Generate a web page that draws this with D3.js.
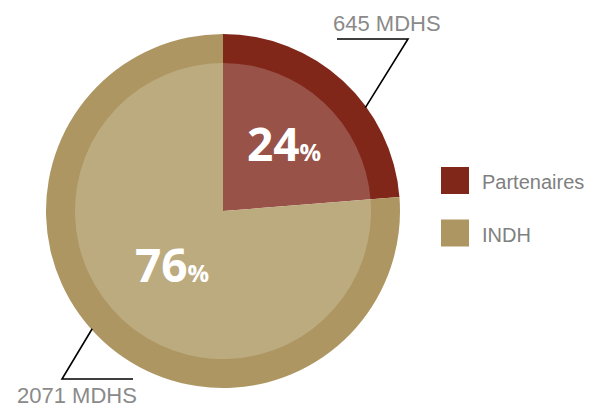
<!DOCTYPE html>
<html>
<head>
<meta charset="utf-8">
<script src="https://cdn.jsdelivr.net/npm/d3@7"></script>
<style>
  html, body { margin: 0; padding: 0; background: #fff; }
  svg { display: block; }
</style>
</head>
<body>
<div id="root"></div>
<script>
// Chart data
const categories = ["Partenaires", "INDH"];
const values = [645, 2071];
const amountLabels = ["645 MDHS", "2071 MDHS"];
const colors = ["#80271a", "#ad9661"];

const width = 594;
const height = 407;
const cx = 223;
const cy = 211;
const outerR = 177;
const innerR = 148;

const svg = d3
  .select("#root")
  .append("svg")
  .attr("width", width)
  .attr("height", height);

const pie = d3.pie().sort(null).value((d) => d);
const slices = pie(values);
const total = d3.sum(values);

const chartArea = svg.append("g").attr("transform", `translate(${cx}, ${cy})`);

const outerArc = d3.arc().innerRadius(0).outerRadius(outerR);
const innerArc = d3.arc().innerRadius(0).outerRadius(innerR);

chartArea
  .selectAll("path.slice")
  .data(slices)
  .join("path")
  .attr("class", "slice")
  .attr("d", outerArc)
  .attr("fill", (d, i) => colors[i]);

// lighter inner disk
chartArea
  .selectAll("path.inner")
  .data(slices)
  .join("path")
  .attr("class", "inner")
  .attr("d", innerArc)
  .attr("fill", "#fff")
  .attr("fill-opacity", 0.2);

// percentage labels
const labelRadius = [90, 75];
const pctLabels = chartArea
  .selectAll("text.pct")
  .data(slices)
  .join("text")
  .attr("class", "pct")
  .attr("transform", (d, i) => {
    const a = (d.startAngle + d.endAngle) / 2;
    const r = labelRadius[i];
    return `translate(${Math.sin(a) * r}, ${-Math.cos(a) * r + 16})`;
  })
  .attr("text-anchor", "middle")
  .attr("fill", "#fff")
  .attr("font-family", "'Open Sans', sans-serif")
  .attr("font-weight", 700);
pctLabels
  .append("tspan")
  .attr("font-size", 46)
  .text((d) => Math.round((d.value / total) * 100));
pctLabels
  .append("tspan")
  .attr("font-size", 24)
  .text("%");

// leader lines with amounts
const leaders = [
  { angle: 54, elbow: [408, 39], end: [337, 39], text: [333, 31], anchor: "start" },
  { angle: 228, elbow: [62, 379], end: [133, 379], text: [17, 403], anchor: "start" }
];
leaders.forEach((l, i) => {
  const a = (l.angle * Math.PI) / 180;
  const sx = cx + Math.sin(a) * (outerR - 1);
  const sy = cy - Math.cos(a) * (outerR - 1);
  svg
    .append("polyline")
    .attr("points", `${sx},${sy} ${l.elbow[0]},${l.elbow[1]} ${l.end[0]},${l.end[1]}`)
    .attr("fill", "none")
    .attr("stroke", "#000")
    .attr("stroke-width", 1.6);
  svg
    .append("text")
    .attr("x", l.text[0])
    .attr("y", l.text[1])
    .attr("text-anchor", l.anchor)
    .attr("font-family", "'Liberation Sans', Arial, sans-serif")
    .attr("font-size", 22)
    .attr("fill", "#8a8a8a")
    .text(amountLabels[i]);
});

// legend
const legend = svg
  .selectAll("g.legend")
  .data(categories)
  .join("g")
  .attr("class", "legend")
  .attr("transform", (d, i) => `translate(441, ${167 + i * 52.5})`);
legend
  .append("rect")
  .attr("width", 28)
  .attr("height", 27)
  .attr("fill", (d, i) => colors[i]);
legend
  .append("text")
  .attr("x", 41)
  .attr("y", 22)
  .attr("font-family", "'Liberation Sans', Arial, sans-serif")
  .attr("font-size", 20)
  .attr("fill", "#808080")
  .text((d) => d);
</script>
</body>
</html>
